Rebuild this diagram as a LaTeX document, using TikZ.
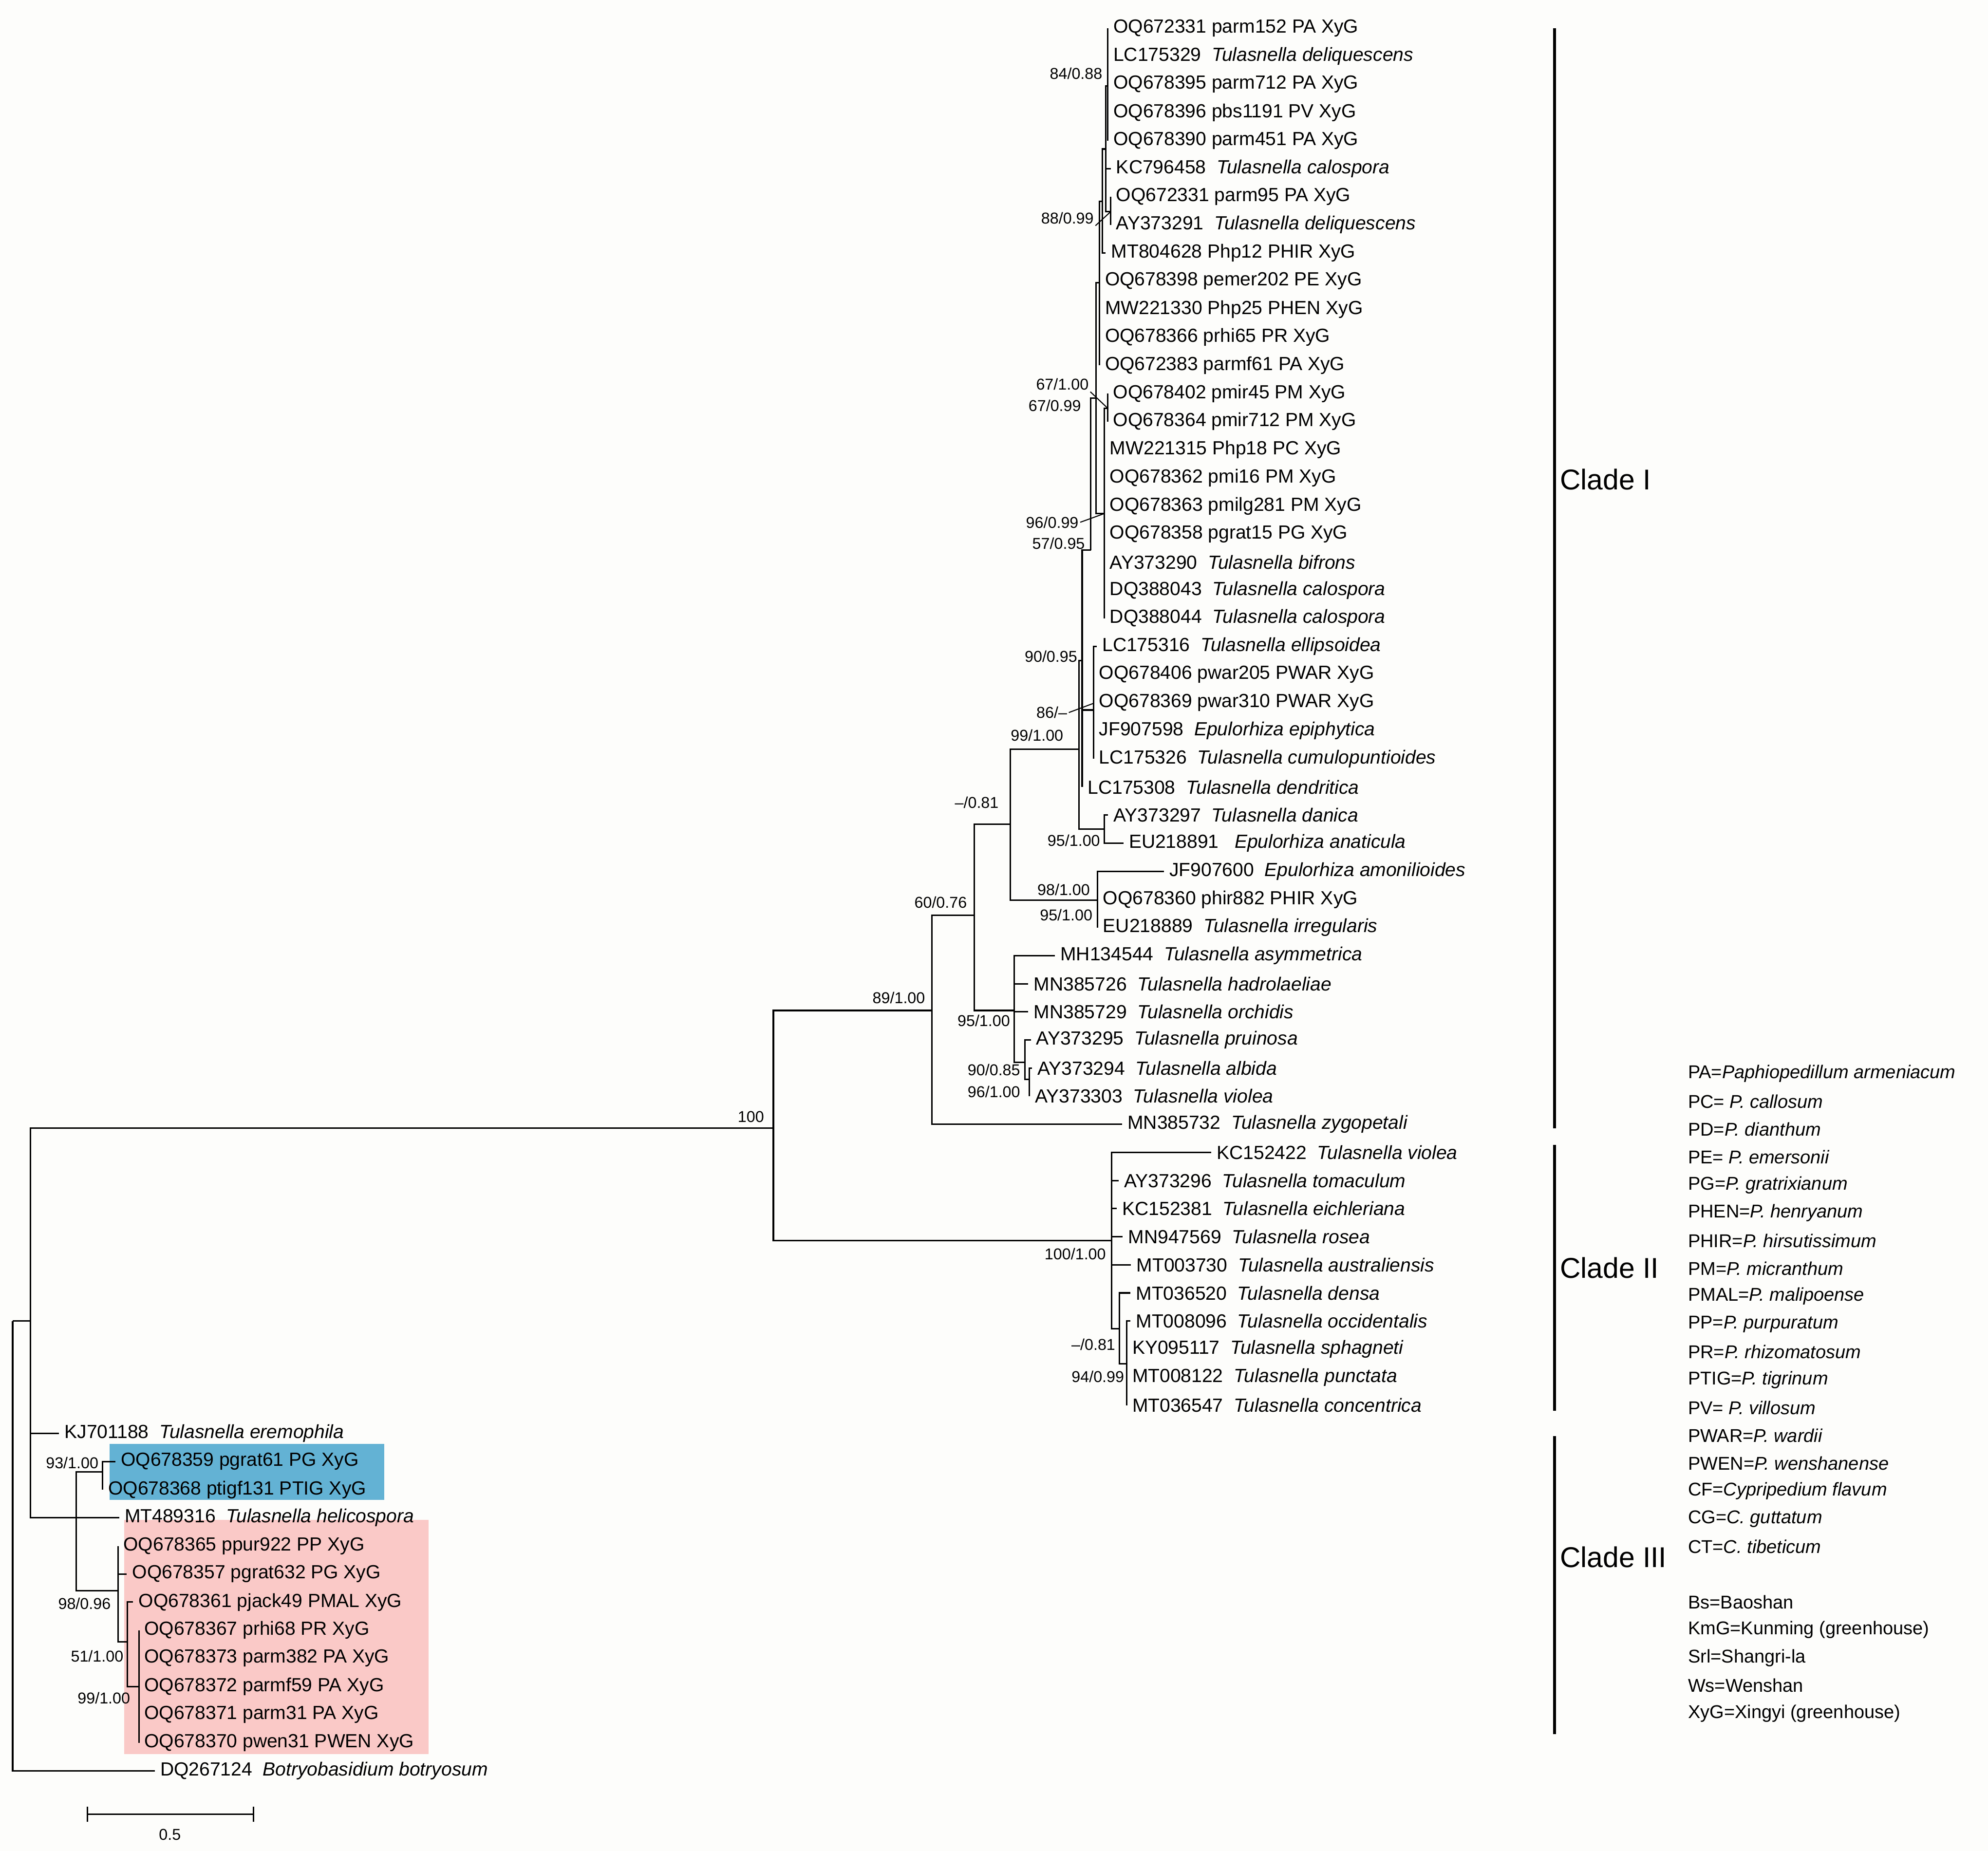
\documentclass[tikz,border=0pt]{standalone}
\usepackage{fontspec}
\setmainfont{Liberation Sans}
\usetikzlibrary{positioning}
\definecolor{bgc}{RGB}{253,253,251}
\definecolor{boxblue}{RGB}{99,178,212}
\definecolor{boxpink}{RGB}{250,201,199}
\tikzset{
  br/.style={line width=0.6pt},
  tip/.style={anchor=west,inner sep=2pt,font=\fontsize{7.5}{9}\selectfont},
  sup/.style={anchor=east,inner sep=0.5pt,font=\fontsize{6.2}{7}\selectfont},
  lead/.style={line width=0.4pt},
  leg/.style={anchor=west,inner sep=0pt,font=\fontsize{7.3}{9}\selectfont},
  cbar/.style={line width=1.1pt},
  clab/.style={anchor=west,inner sep=0pt,font=\fontsize{11.3}{13}\selectfont}
}
\begin{document}
\begin{tikzpicture}[x=0.5pt,y=-11.085pt]
  \useasboundingbox (0,-1.0014) rectangle (1568,64.85);
  \fill[bgc] (0,-1.0014) rectangle (1568,64.85);

  % highlighted sequences
  \fill[boxblue] (86.5,50.37) rectangle (303,52.36);
  \fill[boxpink] (98,53.08) rectangle (338,61.4);

  % tips
  \foreach \n/\x/\r/\t in {
    t0/873.8/0/{OQ672331 parm152 PA XyG},
    t1/873.8/1/{LC175329~\ \textit{Tulasnella deliquescens}},
    t2/873.8/2/{OQ678395 parm712 PA XyG},
    t3/873.8/3/{OQ678396 pbs1191 PV XyG},
    t4/873.8/4/{OQ678390 parm451 PA XyG},
    t5/876/5/{KC796458~\ \textit{Tulasnella calospora}},
    t6/876/6/{OQ672331 parm95 PA XyG},
    t7/876/7/{AY373291~\ \textit{Tulasnella deliquescens}},
    t8/872.1/8/{MT804628 Php12 PHIR XyG},
    t9/867.2/9/{OQ678398 pemer202 PE XyG},
    t10/867.2/10/{MW221330 Php25 PHEN XyG},
    t11/867.2/11/{OQ678366 prhi65 PR XyG},
    t12/867.2/12/{OQ672383 parmf61 PA XyG},
    t13/873.6/13/{OQ678402 pmir45 PM XyG},
    t14/873.6/14/{OQ678364 pmir712 PM XyG},
    t15/871/15/{MW221315 Php18 PC XyG},
    t16/871/16/{OQ678362 pmi16 PM XyG},
    t17/871/17/{OQ678363 pmilg281 PM XyG},
    t18/871/18/{OQ678358 pgrat15 PG XyG},
    t19/871/19/{AY373290~\ \textit{Tulasnella bifrons}},
    t20/871/20/{DQ388043~\ \textit{Tulasnella calospora}},
    t21/871/21/{DQ388044~\ \textit{Tulasnella calospora}},
    t22/865/22/{LC175316~\ \textit{Tulasnella ellipsoidea}},
    t23/862.5/23/{OQ678406 pwar205 PWAR XyG},
    t24/862.5/24/{OQ678369 pwar310 PWAR XyG},
    t25/862.5/25/{JF907598~\ \textit{Epulorhiza epiphytica}},
    t26/862.5/26/{LC175326~\ \textit{Tulasnella cumulopuntioides}},
    t27/853.5/27/{LC175308~\ \textit{Tulasnella dendritica}},
    t28/874/28/{AY373297~\ \textit{Tulasnella danica}},
    t29/886/29/{EU218891~\ \ \textit{Epulorhiza anaticula}},
    t30/918/30/{JF907600~\ \textit{Epulorhiza amonilioides}},
    t31/865.6/31/{OQ678360 phir882 PHIR XyG},
    t32/865.6/32/{EU218889~\ \textit{Tulasnella irregularis}},
    t33/832/33/{MH134544~\ \textit{Tulasnella asymmetrica}},
    t34/811/34/{MN385726~\ \textit{Tulasnella hadrolaeliae}},
    t35/811/35/{MN385729~\ \textit{Tulasnella orchidis}},
    t36/813/36/{AY373295~\ \textit{Tulasnella pruinosa}},
    t37/814/37/{AY373294~\ \textit{Tulasnella albida}},
    t38/812/38/{AY373303~\ \textit{Tulasnella violea}},
    t39/885/39/{MN385732~\ \textit{Tulasnella zygopetali}},
    t40/955.3/40/{KC152422~\ \textit{Tulasnella violea}},
    t41/882.3/41/{AY373296~\ \textit{Tulasnella tomaculum}},
    t42/880.8/42/{KC152381~\ \textit{Tulasnella eichleriana}},
    t43/885.5/43/{MN947569~\ \textit{Tulasnella rosea}},
    t44/892/44/{MT003730~\ \textit{Tulasnella australiensis}},
    t45/891.6/45/{MT036520~\ \textit{Tulasnella densa}},
    t46/891.6/46/{MT008096~\ \textit{Tulasnella occidentalis}},
    t47/888.7/47/{KY095117~\ \textit{Tulasnella sphagneti}},
    t48/888.7/48/{MT008122~\ \textit{Tulasnella punctata}},
    t49/888.7/49/{MT036547~\ \textit{Tulasnella concentrica}},
    t50/46.5/50/{KJ701188~\ \textit{Tulasnella eremophila}},
    t51/91/51/{OQ678359 pgrat61 PG XyG},
    t52/81/52/{OQ678368 ptigf131 PTIG XyG},
    t53/94/53/{MT489316~\ \textit{Tulasnella helicospora}},
    t54/93/54/{OQ678365 ppur922 PP XyG},
    t55/100/55/{OQ678357 pgrat632 PG XyG},
    t56/105/56/{OQ678361 pjack49 PMAL XyG},
    t57/109.5/57/{OQ678367 prhi68 PR XyG},
    t58/109.5/58/{OQ678373 parm382 PA XyG},
    t59/109.5/59/{OQ678372 parmf59 PA XyG},
    t60/109.5/60/{OQ678371 parm31 PA XyG},
    t61/109.5/61/{OQ678370 pwen31 PWEN XyG},
    t62/122/62/{DQ267124~\ \textit{Botryobasidium botryosum}}}
  {
    \coordinate (\n) at (\x,\r);
    \node[tip] at (\n) {\t};
  }

  % internal nodes
  \coordinate (A1) at (873.8,2.06);
  \coordinate (E2) at (876,6.53);
  \coordinate (E1) at (872.1,4.30);
  \coordinate (E0) at (869.5,6.16);
  \coordinate (D1) at (867.2,9.06);
  \coordinate (D67a) at (873.6,13.52);
  \coordinate (D96) at (871,17.27);
  \coordinate (D67b) at (864.6,13.16);
  \coordinate (D57) at (860.3,18.57);
  \coordinate (C11) at (862.5,24.26);
  \coordinate (C9) at (853.5,22.5);
  \coordinate (C10) at (871,28.5);
  \coordinate (C7) at (851,25.65);
  \coordinate (C8) at (865.6,31.02);
  \coordinate (C3) at (797,28.32);
  \coordinate (C6) at (812,37.4);
  \coordinate (C5) at (808.5,36.8);
  \coordinate (C4) at (800,34.95);
  \coordinate (C2) at (768.5,31.56);
  \coordinate (C1) at (735,34.95);
  \coordinate (F2) at (888.7,47.52);
  \coordinate (F1) at (883,46.27);
  \coordinate (CII) at (876.6,43.13);
  \coordinate (N3) at (610,39.14);
  \coordinate (P3) at (109.5,59);
  \coordinate (P2) at (100.5,57.41);
  \coordinate (P1) at (93,55.6);
  \coordinate (B1) at (81,51.37);
  \coordinate (N2) at (60,53);
  \coordinate (N1) at (24,46.0);
  \coordinate (R) at (10,46.0);

  % branches
  \foreach \p/\c in {A1/t0,A1/t1,A1/t2,A1/t3,A1/t4,
    E2/t6,E2/t7, E1/A1,E1/t5,E1/E2, E0/E1,E0/t8,
    D1/E0,D1/t9,D1/t10,D1/t11,D1/t12,
    D67a/t13,D67a/t14,
    D96/D67a,D96/t15,D96/t16,D96/t17,D96/t18,D96/t19,D96/t20,D96/t21,
    D67b/D1,D67b/D96, D57/D67b,
    C11/t22,C11/t23,C11/t24,C11/t25,C11/t26,
    C9/D57,C9/C11,C9/t27, C10/t28,C10/t29, C7/C9,C7/C10,
    C8/t30,C8/t31,C8/t32, C3/C7,C3/C8,
    C6/t37,C6/t38, C5/t36,C5/C6,
    C4/t33,C4/t34,C4/t35,C4/C5, C2/C3,C2/C4, C1/C2,C1/t39,
    F2/t46,F2/t47,F2/t48,F2/t49, F1/t45,F1/F2,
    CII/t40,CII/t41,CII/t42,CII/t43,CII/t44,CII/F1,
    N3/C1,N3/CII,
    P3/t57,P3/t58,P3/t59,P3/t60,P3/t61, P2/t56,P2/P3,
    P1/t54,P1/t55,P1/P2, B1/t51,B1/t52,
    N2/B1,N2/t53,N2/P1, N1/N3,N1/t50,N1/N2, R/N1,R/t62}
    \draw[br] (\p) |- (\c);

  % support values
  \node[sup] (s84) at (870.8,1.61) {84/0.88};
  \node[sup] (s88) at (864,6.76) {88/0.99};
  \node[sup] (s67a) at (860,12.67) {67/1.00};
  \node[sup] (s67b) at (854,13.43) {67/0.99};
  \node[sup] (s96) at (852,17.58) {96/0.99};
  \node[sup] (s57) at (857,18.33) {57/0.95};
  \node[sup] (s90) at (851,22.35) {90/0.95};
  \node[sup] (s86) at (843,24.35) {86/--};
  \node[sup] (s99) at (840,25.16) {99/1.00};
  \node[sup] (s81a) at (789,27.55) {--/0.81};
  \node[sup] (s95a) at (869,28.9) {95/1.00};
  \node[sup] (s98a) at (861,30.66) {98/1.00};
  \node[sup] (s95b) at (863,31.56) {95/1.00};
  \node[sup] (s60) at (764,31.11) {60/0.76};
  \node[sup] (s89) at (731,34.5) {89/1.00};
  \node[sup] (s95c) at (798,35.31) {95/1.00};
  \node[sup] (s90b) at (806,37.07) {90/0.85};
  \node[sup] (s96b) at (806,37.84) {96/1.00};
  \node[sup] (s100) at (604,38.74) {100};
  \node[sup] (s100b) at (873.6,43.61) {100/1.00};
  \node[sup] (s81b) at (881,46.84) {--/0.81};
  \node[sup] (s94) at (888,47.98) {94/0.99};
  \node[sup] (s93) at (79,51.05) {93/1.00};
  \node[sup] (s98b) at (88.7,56.06) {98/0.96};
  \node[sup] (s51) at (98.7,57.93) {51/1.00};
  \node[sup] (s99b) at (104,59.42) {99/1.00};
  \draw[lead] (s88.south east) -- (E2);
  \draw[lead] (s67a.south east) -- (D67a);
  \draw[lead] (s96.east) -- (D96);
  \draw[lead] (s86.east) -- (862,24.03);

  % clades
  \coordinate (k1a) at (1226,0);   \coordinate (k1b) at (1226,39.14);
  \coordinate (k2a) at (1226,39.73); \coordinate (k2b) at (1226,49.2);
  \coordinate (k3a) at (1226,50.1);  \coordinate (k3b) at (1226,60.7);
  \draw[cbar] (k1a) -- (k1b);
  \draw[cbar] (k2a) -- (k2b);
  \draw[cbar] (k3a) -- (k3b);
  \node[clab] (cl1) at (1230,16.05) {Clade I};
  \node[clab] (cl2) at (1230,44.1) {Clade II};
  \node[clab] (cl3) at (1230,54.4) {Clade III};

  % legend
  \foreach \t [count=\k from 0] in {PA=\textit{Paphiopedillum armeniacum},
    PC= \textit{P. callosum}, PD=\textit{P. dianthum}, PE= \textit{P. emersonii},
    PG=\textit{P. gratrixianum}, PHEN=\textit{P. henryanum},
    PHIR=\textit{P. hirsutissimum}, PM=\textit{P. micranthum},
    PMAL=\textit{P. malipoense}, PP=\textit{P. purpuratum},
    PR=\textit{P. rhizomatosum}, PTIG=\textit{P. tigrinum},
    PV= \textit{P. villosum}, PWAR=\textit{P. wardii},
    PWEN=\textit{P. wenshanense}, CF=\textit{Cypripedium flavum},
    CG=\textit{C. guttatum}, CT=\textit{C. tibeticum}}
    \node[leg] (lg\k) at (1331,37.2+0.99*\k) {\t};
  \foreach \t [count=\k from 0] in {Bs=Baoshan, KmG=Kunming (greenhouse),
    Srl=Shangri-la, Ws=Wenshan, XyG=Xingyi (greenhouse)}
    \node[leg] (lc\k) at (1331,56.0+0.99*\k) {\t};

  % scale bar
  \coordinate (sb1) at (69,63.55);
  \coordinate (sb2) at (200,63.55);
  \draw[br] (sb1) -- (sb2);
  \draw[br] ([yshift=3pt]sb1) -- ([yshift=-3pt]sb1);
  \draw[br] ([yshift=3pt]sb2) -- ([yshift=-3pt]sb2);
  \node[sup,anchor=center] (sbl) at (134,64.27) {0.5};
\end{tikzpicture}
\end{document}
